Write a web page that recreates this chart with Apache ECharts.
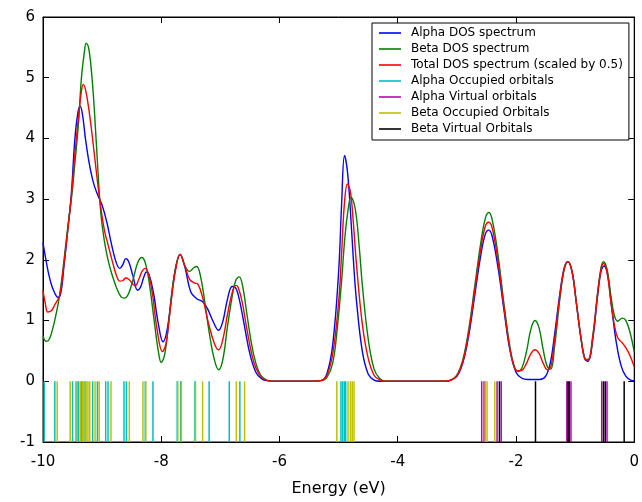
<!DOCTYPE html>
<html><head><meta charset="utf-8">
<script src="https://cdn.jsdelivr.net/npm/echarts@6/dist/echarts.min.js"></script>
<style>html,body{margin:0;padding:0;background:#fff}#c{width:642px;height:502px}</style>
</head><body><div id="c"></div>
<script>
// Energy (eV), DOS value pairs
const alphaDOS = [[-10,2.28],[-9.95,2.0],[-9.9,1.75],[-9.85,1.57],[-9.8,1.45],[-9.75,1.38],[-9.7,1.45],[-9.65,1.85],[-9.58,2.5],[-9.52,3.1],[-9.46,4.0],[-9.41,4.42],[-9.37,4.53],[-9.33,4.38],[-9.28,3.98],[-9.22,3.6],[-9.15,3.28],[-9.08,3.08],[-9.0,2.9],[-8.92,2.62],[-8.84,2.25],[-8.76,1.95],[-8.7,1.86],[-8.65,1.92],[-8.6,2.02],[-8.55,1.97],[-8.48,1.74],[-8.4,1.5],[-8.35,1.55],[-8.3,1.7],[-8.25,1.8],[-8.2,1.74],[-8.13,1.45],[-8.05,0.95],[-7.97,0.65],[-7.9,0.85],[-7.82,1.45],[-7.75,1.9],[-7.68,2.09],[-7.6,1.88],[-7.5,1.47],[-7.4,1.36],[-7.3,1.31],[-7.22,1.2],[-7.12,0.98],[-7.03,0.84],[-6.96,0.98],[-6.88,1.35],[-6.8,1.56],[-6.75,1.55],[-6.68,1.35],[-6.6,0.95],[-6.5,0.45],[-6.4,0.15],[-6.3,0.04],[-6.2,0.01],[-6.0,0],[-5.5,0],[-5.3,0.01],[-5.2,0.12],[-5.1,0.6],[-5.0,1.8],[-4.95,2.9],[-4.9,3.72],[-4.85,3.45],[-4.8,2.8],[-4.75,2.0],[-4.7,1.35],[-4.6,0.5],[-4.5,0.12],[-4.4,0.02],[-4.3,0],[-3.2,0],[-3.1,0.02],[-3.0,0.08],[-2.9,0.3],[-2.8,0.75],[-2.7,1.4],[-2.6,2.05],[-2.52,2.42],[-2.46,2.49],[-2.4,2.38],[-2.3,1.85],[-2.2,1.15],[-2.1,0.5],[-2.0,0.15],[-1.9,0.05],[-1.8,0.03],[-1.6,0.03],[-1.5,0.08],[-1.42,0.3],[-1.35,0.75],[-1.25,1.5],[-1.18,1.88],[-1.12,1.97],[-1.05,1.8],[-0.98,1.3],[-0.9,0.7],[-0.83,0.36],[-0.78,0.33],[-0.7,0.7],[-0.62,1.4],[-0.56,1.82],[-0.51,1.9],[-0.45,1.75],[-0.38,1.2],[-0.3,0.62],[-0.22,0.25],[-0.14,0.08],[-0.06,0.02],[0,0.01]];

const betaDOS = [[-10,0.75],[-9.95,0.66],[-9.9,0.68],[-9.84,0.85],[-9.78,1.1],[-9.72,1.41],[-9.65,1.95],[-9.58,2.55],[-9.52,3.0],[-9.46,3.6],[-9.4,4.25],[-9.35,5.0],[-9.3,5.42],[-9.27,5.57],[-9.23,5.5],[-9.18,5.1],[-9.13,4.45],[-9.07,3.45],[-9.02,2.75],[-8.96,2.3],[-8.9,2.0],[-8.84,1.78],[-8.76,1.55],[-8.68,1.39],[-8.62,1.37],[-8.55,1.45],[-8.47,1.7],[-8.4,1.95],[-8.33,2.04],[-8.27,1.95],[-8.2,1.6],[-8.12,1.0],[-8.05,0.5],[-8.0,0.31],[-7.94,0.45],[-7.86,1.1],[-7.78,1.75],[-7.68,2.09],[-7.6,1.9],[-7.52,1.81],[-7.45,1.87],[-7.4,1.89],[-7.34,1.75],[-7.27,1.35],[-7.18,0.75],[-7.1,0.35],[-7.03,0.19],[-6.96,0.35],[-6.88,0.9],[-6.8,1.4],[-6.74,1.66],[-6.68,1.72],[-6.62,1.55],[-6.55,1.1],[-6.47,0.6],[-6.4,0.3],[-6.32,0.1],[-6.22,0.02],[-6.1,0],[-5.5,0],[-5.3,0.01],[-5.2,0.06],[-5.1,0.3],[-5.02,0.9],[-4.95,1.65],[-4.9,2.3],[-4.85,2.75],[-4.79,3.03],[-4.72,2.85],[-4.65,2.2],[-4.6,1.6],[-4.5,0.7],[-4.4,0.2],[-4.3,0.04],[-4.2,0],[-3.2,0],[-3.1,0.02],[-3.0,0.1],[-2.9,0.35],[-2.8,0.85],[-2.7,1.55],[-2.6,2.25],[-2.52,2.68],[-2.46,2.78],[-2.4,2.65],[-2.3,2.05],[-2.2,1.25],[-2.1,0.55],[-2.03,0.25],[-1.97,0.16],[-1.9,0.22],[-1.82,0.5],[-1.75,0.85],[-1.68,1.0],[-1.61,0.88],[-1.54,0.52],[-1.47,0.24],[-1.41,0.2],[-1.35,0.55],[-1.25,1.42],[-1.18,1.86],[-1.12,1.97],[-1.05,1.8],[-0.98,1.3],[-0.9,0.72],[-0.83,0.37],[-0.78,0.36],[-0.7,0.76],[-0.62,1.46],[-0.56,1.88],[-0.52,1.97],[-0.46,1.85],[-0.4,1.45],[-0.34,1.1],[-0.28,0.99],[-0.2,1.04],[-0.14,1.0],[-0.07,0.8],[0,0.49]];

const totalDOS = [[-10,1.49],[-9.96,1.28],[-9.92,1.14],[-9.86,1.16],[-9.8,1.26],[-9.72,1.41],[-9.65,1.9],[-9.58,2.5],[-9.52,3.05],[-9.46,3.75],[-9.4,4.35],[-9.35,4.78],[-9.32,4.89],[-9.28,4.8],[-9.22,4.45],[-9.15,3.9],[-9.08,3.3],[-9.02,2.85],[-8.96,2.48],[-8.9,2.25],[-8.82,1.95],[-8.75,1.72],[-8.7,1.65],[-8.65,1.66],[-8.6,1.7],[-8.55,1.68],[-8.48,1.6],[-8.44,1.57],[-8.38,1.68],[-8.32,1.82],[-8.27,1.86],[-8.22,1.78],[-8.15,1.45],[-8.07,0.85],[-7.98,0.49],[-7.92,0.62],[-7.84,1.25],[-7.76,1.82],[-7.68,2.09],[-7.6,1.9],[-7.52,1.68],[-7.44,1.62],[-7.38,1.6],[-7.3,1.38],[-7.2,0.95],[-7.1,0.62],[-7.03,0.52],[-6.96,0.68],[-6.88,1.1],[-6.8,1.46],[-6.74,1.58],[-6.7,1.55],[-6.63,1.3],[-6.55,0.85],[-6.47,0.45],[-6.4,0.22],[-6.3,0.06],[-6.2,0.01],[-6.1,0],[-5.5,0],[-5.3,0.01],[-5.2,0.09],[-5.1,0.45],[-5.0,1.3],[-4.95,2.1],[-4.9,2.95],[-4.85,3.25],[-4.8,3.12],[-4.75,2.6],[-4.7,1.95],[-4.6,0.95],[-4.5,0.38],[-4.4,0.1],[-4.3,0.02],[-4.2,0],[-3.2,0],[-3.1,0.02],[-3.0,0.09],[-2.9,0.32],[-2.8,0.8],[-2.7,1.48],[-2.6,2.15],[-2.52,2.55],[-2.46,2.62],[-2.4,2.52],[-2.3,1.95],[-2.2,1.2],[-2.1,0.52],[-2.03,0.24],[-1.97,0.17],[-1.9,0.18],[-1.82,0.3],[-1.75,0.45],[-1.68,0.52],[-1.61,0.46],[-1.54,0.3],[-1.47,0.19],[-1.41,0.24],[-1.35,0.65],[-1.25,1.46],[-1.18,1.87],[-1.12,1.97],[-1.05,1.8],[-0.98,1.3],[-0.9,0.71],[-0.83,0.36],[-0.78,0.35],[-0.7,0.73],[-0.62,1.43],[-0.56,1.85],[-0.52,1.94],[-0.46,1.8],[-0.4,1.35],[-0.34,0.95],[-0.28,0.72],[-0.2,0.63],[-0.14,0.55],[-0.07,0.42],[0,0.24]];

// Orbital energies (eV)
const alphaOccupied = [-9.98,-9.80,-9.50,-9.44,-9.40,-9.35,-9.29,-9.16,-9.08,-8.94,-8.90,-8.63,-8.59,-8.27,-8.14,-7.73,-7.67,-7.43,-7.19,-6.85,-6.67,-4.96,-4.93,-4.90,-4.88];
const alphaVirtual = [-2.58,-2.54,-2.32,-2.25,-1.14,-1.07,-0.55,-0.46];
const betaOccupied = [-9.76,-9.54,-9.42,-9.37,-9.33,-9.31,-9.27,-9.24,-9.21,-9.12,-9.05,-8.85,-8.54,-8.31,-8.26,-7.72,-7.66,-7.42,-7.30,-6.73,-6.59,-5.03,-4.84,-4.80,-4.77,-4.74,-2.52,-2.49,-2.36];
const betaVirtual = [-2.28,-1.67,-1.12,-1.10,-0.52,-0.49,-0.17];

const xTicks = {min:-10, max:0, interval:2};
const yTicks = {min:-1, max:6, interval:1};

const FONT = 'DejaVu Sans';
function curve(name, data, color){
  return {name, type:'line', data, symbol:'none', smooth:0.4,
    lineStyle:{color, width:1.4}, itemStyle:{color}, z:2, silent:true};
}
function vlines(name, arr, color){
  return {name, type:'custom', data: arr.map(e=>[e,0]), encode:{x:0,y:1},
    itemStyle:{color}, silent:true, z:3,
    renderItem:(params, api)=>{
      const a = api.coord([api.value(0), 0]);
      const b = api.coord([api.value(0), -1]);
      return {type:'line', shape:{x1:a[0], y1:a[1], x2:a[0], y2:b[1]},
        style:{stroke:color, lineWidth:1.5}};
    }};
}
function axisCommon(){
  return {
    axisLine:{show:true, onZero:false, lineStyle:{color:'#000', width:1}},
    axisTick:{show:true, inside:true, length:6, lineStyle:{color:'#000'}},
    splitLine:{show:false}
  };
}
const chart = echarts.init(document.getElementById('c'), null, {renderer:'canvas'});
chart.setOption({
  animation:false,
  backgroundColor:'#fff',
  grid:{left:43, right:6, top:17, bottom:54, show:true, borderColor:'#000', borderWidth:1, backgroundColor:'transparent'},
  xAxis:[
    Object.assign({type:'value', ...xTicks, position:'bottom',
      name:'Energy (eV)', nameLocation:'middle', nameGap:39,
      nameTextStyle:{fontFamily:FONT, fontSize:16, color:'#000'},
      axisLabel:{fontFamily:FONT, fontSize:15, color:'#000', margin:13}}, axisCommon()),
    Object.assign({type:'value', ...xTicks, position:'top', axisLabel:{show:false}}, axisCommon())
  ],
  yAxis:[
    Object.assign({type:'value', ...yTicks, position:'left',
      axisLabel:{fontFamily:FONT, fontSize:15, color:'#000', margin:8}}, axisCommon()),
    Object.assign({type:'value', ...yTicks, position:'right', axisLabel:{show:false}}, axisCommon())
  ],
  legend:{
    orient:'vertical', left:372, top:23,
    data:['Alpha DOS spectrum','Beta DOS spectrum','Total DOS spectrum (scaled by 0.5)',
      'Alpha Occupied orbitals','Alpha Virtual orbitals','Beta Occupied Orbitals','Beta Virtual Orbitals'],
    icon:'rect', itemWidth:22, itemHeight:1.6, itemGap:2,
    textStyle:{fontFamily:FONT, fontSize:12, color:'#000', lineHeight:14, padding:[0,0,0,5]},
    backgroundColor:'#fff', borderColor:'#000', borderWidth:1, borderRadius:0,
    padding:[3,6,4,7], selectedMode:false
  },
  series:[
    curve('Alpha DOS spectrum', alphaDOS, '#0000ff'),
    curve('Beta DOS spectrum', betaDOS, '#008000'),
    curve('Total DOS spectrum (scaled by 0.5)', totalDOS, '#ff0000'),
    vlines('Alpha Occupied orbitals', alphaOccupied, '#00bfbf'),
    vlines('Alpha Virtual orbitals', alphaVirtual, '#bf00bf'),
    vlines('Beta Occupied Orbitals', betaOccupied, '#bfbf00'),
    vlines('Beta Virtual Orbitals', betaVirtual, '#000000')
  ]
});
</script>
</body></html>
